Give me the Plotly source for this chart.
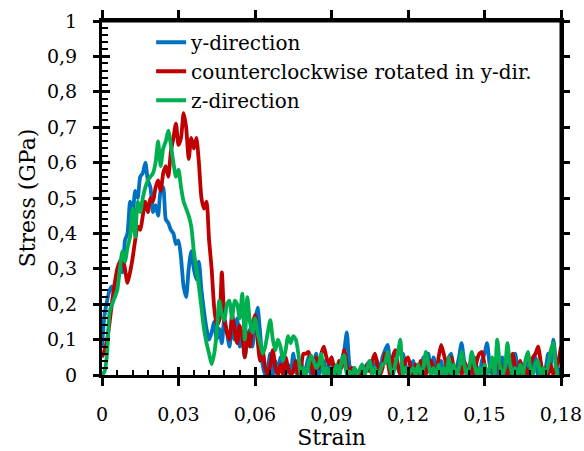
import plotly.graph_objects as go

# ---------------- data (stress in GPa, sampled every 0.001 strain) ----------------
STRAIN_STEP = 0.001
N_POINTS = 181

y_direction = [
    0.08, 0.17, 0.21, 0.24, 0.25, 0.22, 0.26, 0.30, 0.29, 0.38,
    0.40, 0.49, 0.45, 0.52, 0.50, 0.56, 0.57, 0.60, 0.55, 0.53,
    0.46, 0.48, 0.45, 0.52, 0.53, 0.44, 0.43, 0.41, 0.40, 0.37,
    0.38, 0.33, 0.25, 0.22, 0.30, 0.35, 0.30, 0.27, 0.32, 0.24,
    0.18, 0.13, 0.10, 0.12, 0.15, 0.10, 0.13, 0.09, 0.16, 0.12,
    0.08, 0.14, 0.10, 0.16, 0.08, 0.12, 0.05, 0.10, 0.13, 0.08,
    0.15, 0.19, 0.12, 0.03, 0.00, 0.02, 0.06, 0.00, 0.04, 0.00,
    0.05, 0.02, 0.00, 0.03, 0.00, 0.06, 0.01, 0.00, 0.04, 0.00,
    0.02, 0.05, 0.00, 0.03, 0.06, 0.00, 0.02, 0.04, 0.00, 0.03,
    0.05, 0.00, 0.02, 0.00, 0.04, 0.07, 0.12, 0.03, 0.00, 0.02,
    0.00, 0.01, 0.00, 0.02, 0.03, 0.04, 0.00, 0.03, 0.04, 0.00,
    0.05, 0.07, 0.085, 0.03, 0.00, 0.04, 0.02, 0.00, 0.06, 0.03,
    0.00, 0.02, 0.04, 0.00, 0.03, 0.00, 0.05, 0.02, 0.06, 0.00,
    0.05, 0.02, 0.00, 0.04, 0.00, 0.03, 0.05, 0.06, 0.00, 0.02,
    0.05, 0.09, 0.04, 0.00, 0.03, 0.00, 0.05, 0.02, 0.00, 0.04,
    0.06, 0.09, 0.03, 0.00, 0.04, 0.00, 0.02, 0.05, 0.00, 0.03,
    0.00, 0.04, 0.06, 0.02, 0.00, 0.03, 0.00, 0.04, 0.00, 0.02,
    0.05, 0.00, 0.03, 0.00, 0.02, 0.06, 0.03, 0.10, 0.04, 0.00,
    0.02,
]

ccw_rotated_y = [
    0.05, 0.07, 0.10, 0.15, 0.21, 0.26, 0.30, 0.32, 0.33, 0.30,
    0.26, 0.29, 0.33, 0.38, 0.42, 0.41, 0.45, 0.49, 0.46, 0.50,
    0.49, 0.53, 0.55, 0.52, 0.57, 0.59, 0.56, 0.63, 0.67, 0.71,
    0.65, 0.67, 0.74, 0.70, 0.61, 0.67, 0.64, 0.67, 0.60, 0.50,
    0.47, 0.49, 0.38, 0.30, 0.19, 0.14, 0.155, 0.29, 0.155, 0.12,
    0.10, 0.17, 0.13, 0.09, 0.14, 0.11, 0.05, 0.12, 0.08, 0.14,
    0.17, 0.10, 0.04, 0.07, 0.02, 0.00, 0.03, 0.07, 0.02, 0.00,
    0.03, 0.00, 0.05, 0.02, 0.00, 0.01, 0.04, 0.00, 0.02, 0.06,
    0.06, 0.065, 0.03, 0.00, 0.05, 0.02, 0.06, 0.08, 0.05, 0.03,
    0.05, 0.02, 0.00, 0.04, 0.02, 0.07, 0.03, 0.00, 0.02, 0.00,
    0.01, 0.00, 0.02, 0.00, 0.03, 0.01, 0.04, 0.06, 0.03, 0.00,
    0.02, 0.06, 0.04, 0.00, 0.05, 0.07, 0.03, 0.00, 0.02, 0.04,
    0.05, 0.02, 0.00, 0.03, 0.00, 0.04, 0.02, 0.00, 0.03, 0.04,
    0.02, 0.00, 0.05, 0.085, 0.06, 0.03, 0.00, 0.05, 0.02, 0.00,
    0.03, 0.00, 0.04, 0.02, 0.00, 0.03, 0.00, 0.04, 0.06, 0.065,
    0.03, 0.00, 0.02, 0.04, 0.00, 0.03, 0.04, 0.00, 0.02, 0.00,
    0.03, 0.06, 0.02, 0.00, 0.04, 0.00, 0.02, 0.00, 0.03, 0.05,
    0.06, 0.08, 0.04, 0.00, 0.02, 0.00, 0.03, 0.00, 0.02, 0.04,
    0.08,
]

z_direction = [
    0.00, 0.01, 0.06, 0.18, 0.20, 0.22, 0.24, 0.30, 0.35, 0.32,
    0.36, 0.39, 0.47, 0.39, 0.49, 0.46, 0.50, 0.53, 0.55, 0.56,
    0.57, 0.60, 0.66, 0.59, 0.64, 0.66, 0.69, 0.65, 0.60, 0.56,
    0.58, 0.53, 0.49, 0.47, 0.45, 0.42, 0.35, 0.30, 0.25, 0.19,
    0.13, 0.09, 0.06, 0.03, 0.06, 0.12, 0.21, 0.17, 0.155, 0.20,
    0.21, 0.16, 0.21, 0.20, 0.16, 0.23, 0.10, 0.22, 0.15, 0.12,
    0.16, 0.12, 0.09, 0.06, 0.08, 0.12, 0.155, 0.10, 0.07, 0.10,
    0.08, 0.04, 0.07, 0.11, 0.09, 0.11, 0.10, 0.06, 0.00, 0.02,
    0.00, 0.03, 0.055, 0.04, 0.02, 0.03, 0.06, 0.00, 0.02, 0.00,
    0.02, 0.00, 0.03, 0.00, 0.04, 0.056, 0.00, 0.01, 0.00, 0.02,
    0.00, 0.015, 0.03, 0.00, 0.02, 0.04, 0.00, 0.02, 0.00, 0.01,
    0.03, 0.034, 0.065, 0.02, 0.00, 0.03, 0.06, 0.10, 0.00, 0.02,
    0.00, 0.01, 0.02, 0.00, 0.03, 0.00, 0.02, 0.065, 0.03, 0.00,
    0.02, 0.00, 0.03, 0.00, 0.02, 0.00, 0.05, 0.00, 0.03, 0.00,
    0.02, 0.065, 0.03, 0.00, 0.02, 0.065, 0.03, 0.00, 0.02, 0.00,
    0.03, 0.00, 0.02, 0.05, 0.00, 0.10, 0.03, 0.00, 0.02, 0.09,
    0.03, 0.00, 0.02, 0.00, 0.03, 0.00, 0.04, 0.065, 0.02, 0.00,
    0.03, 0.04, 0.00, 0.02, 0.00, 0.03, 0.07, 0.09, 0.02, 0.00,
    0.00,
]

strain = [round(i * STRAIN_STEP, 3) for i in range(N_POINTS)]

series_names = ["y-direction", "counterclockwise rotated in y-dir.", "z-direction"]
series_values = [y_direction, ccw_rotated_y, z_direction]
series_colors = ["#0070C0", "#C00000", "#00B050"]

FONT = "DejaVu Serif"

fig = go.Figure()
for name, vals, col in zip(series_names, series_values, series_colors):
    fig.add_trace(go.Scatter(
        x=strain, y=vals, name=name, mode="lines",
        line=dict(color=col, width=3.8, shape="spline", smoothing=0.6),
    ))

# empty traces to materialise the overlay axes used for extra tick marks
for xa, ya in (("x2", "y2"), ("x3", "y3")):
    fig.add_trace(go.Scatter(x=[], y=[], xaxis=xa, yaxis=ya, showlegend=False, hoverinfo="skip"))

common = dict(showgrid=False, zeroline=False, color="black", automargin=False)
tick_only = dict(showticklabels=False, showline=False, tickcolor="black", **common)

fig.update_layout(
    width=584, height=451, autosize=False,
    margin=dict(l=102, r=23, t=21, b=76),
    paper_bgcolor="white", plot_bgcolor="white",
    separators=",.",
    font=dict(family=FONT, color="black", size=20),
    showlegend=True,
    legend=dict(
        x=0.107, y=0.995, xanchor="left", yanchor="top",
        bgcolor="rgba(0,0,0,0)", borderwidth=0,
        font=dict(family=FONT, size=20, color="black"),
        tracegroupgap=0,
    ),
    xaxis=dict(
        range=[0, 0.18], tick0=0, dtick=0.03,
        ticks="outside", ticklen=8, tickwidth=2.5, tickcolor="black",
        showline=True, linewidth=3, linecolor="black", mirror="all",
        tickfont=dict(family=FONT, size=19, color="black"),
        ticklabelstandoff=12,
        title=dict(text="Strain", font=dict(family=FONT, size=22, color="black"), standoff=2),
        **common,
    ),
    yaxis=dict(
        range=[0, 1], tick0=0, dtick=0.1,
        ticks="outside", ticklen=6, tickwidth=2.5, tickcolor="black",
        showline=True, linewidth=3, linecolor="black", mirror="all",
        tickfont=dict(family=FONT, size=19, color="black"),
        ticklabelstandoff=12,
        title=dict(text="Stress (GPa)", font=dict(family=FONT, size=22, color="black"), standoff=6),
        **common,
    ),
    # inside half of the major ticks
    xaxis2=dict(overlaying="x", anchor="y", side="bottom", range=[0, 0.18], tick0=0, dtick=0.03,
                ticks="inside", ticklen=8, tickwidth=2.5, **tick_only),
    yaxis2=dict(overlaying="y", anchor="x", side="left", range=[0, 1], tick0=0, dtick=0.1,
                ticks="inside", ticklen=8, tickwidth=2.5, **tick_only),
    # minor ticks (inside)
    xaxis3=dict(overlaying="x", anchor="y", side="bottom", range=[0, 0.18], tick0=0, dtick=0.006,
                ticks="inside", ticklen=5, tickwidth=2, **tick_only),
    yaxis3=dict(overlaying="y", anchor="x", side="left", range=[0, 1], tick0=0, dtick=0.02,
                ticks="inside", ticklen=6, tickwidth=2, **tick_only),
    # plot-area frame (top and right edges)
    shapes=[
        dict(type="line", xref="x domain", yref="y domain", x0=0, x1=1, y0=1, y1=1,
             line=dict(color="black", width=3), layer="above"),
        dict(type="line", xref="x domain", yref="y domain", x0=1, x1=1, y0=0, y1=1,
             line=dict(color="black", width=3), layer="above"),
    ],
)

fig.write_html("out.html")
